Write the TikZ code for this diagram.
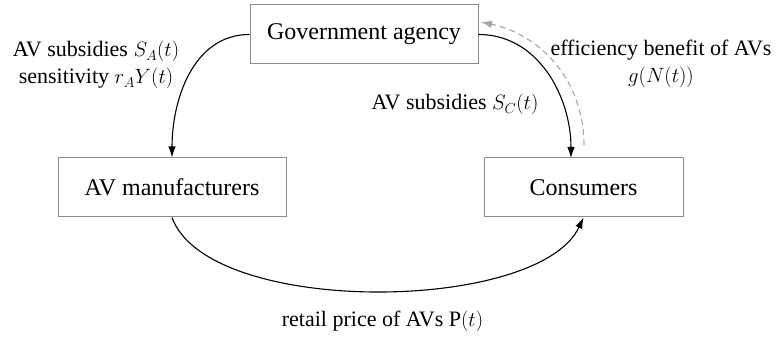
\documentclass[tikz,border=0pt]{standalone}
\usepackage{fontspec}
\setmainfont{LiberationSerif}[Extension=.ttf, UprightFont=*-Regular,
  ItalicFont=*-Italic, BoldFont=*-Bold, BoldItalicFont=*-BoldItalic]
\usetikzlibrary{arrows.meta}
\begin{document}
\begin{tikzpicture}[x=1pt,y=1pt,
  agent/.style={draw=black!45, line width=1pt, minimum height=59pt,
    inner sep=0pt, font=\rmfamily\fontsize{24}{28}\selectfont},
  flow/.style={-{Latex[length=11pt,width=7.5pt]}, line width=1.1pt},
  feedback/.style={-{Latex[length=11pt,width=7.5pt]}, line width=1.1pt,
    draw=black!35, dash pattern=on 6pt off 4pt},
  lbl/.style={anchor=base, inner sep=0pt, font=\rmfamily\fontsize{22}{27}\selectfont},
]
\useasboundingbox (0,0) rectangle (780,339);

% actors
\node[agent, minimum width=228pt] (gov) at (364,304.5) {Government agency};
\node[agent, minimum width=228pt] (man) at (172,151.5) {AV manufacturers};
\node[agent, minimum width=199pt] (con) at (583.5,151.5) {Consumers};

% arrow ends that are off the anchors
\coordinate (conin) at (571,181);
\coordinate (fbstart) at (584,194);
\coordinate (fbend) at (481,317);

% flows
\draw[flow] (gov.west) to[out=180,in=90] (man.north);
\draw[flow] (gov.east) to[out=0,in=90] (conin);
\draw[flow] (man.south) to[out=-70,in=-115,looseness=0.66] (con.south);
\draw[feedback] (fbstart) to[out=90,in=-12] (fbend);

% labels
\node[lbl] (subA) at (96,282) {AV subsidies $S_A(t)$};
\node[lbl] (sens) at (96,255) {sensitivity $r_AY(t)$};
\node[lbl] (subC) at (455,229) {AV subsidies $S_C(t)$};
\node[lbl] (eff) at (661,283) {efficiency benefit of AVs};
\node[lbl] (effg) at (661,256) {$g(N(t))$};
\node[lbl] (price) at (382.5,12) {retail price of AVs P$(t)$};
\end{tikzpicture}
\end{document}
